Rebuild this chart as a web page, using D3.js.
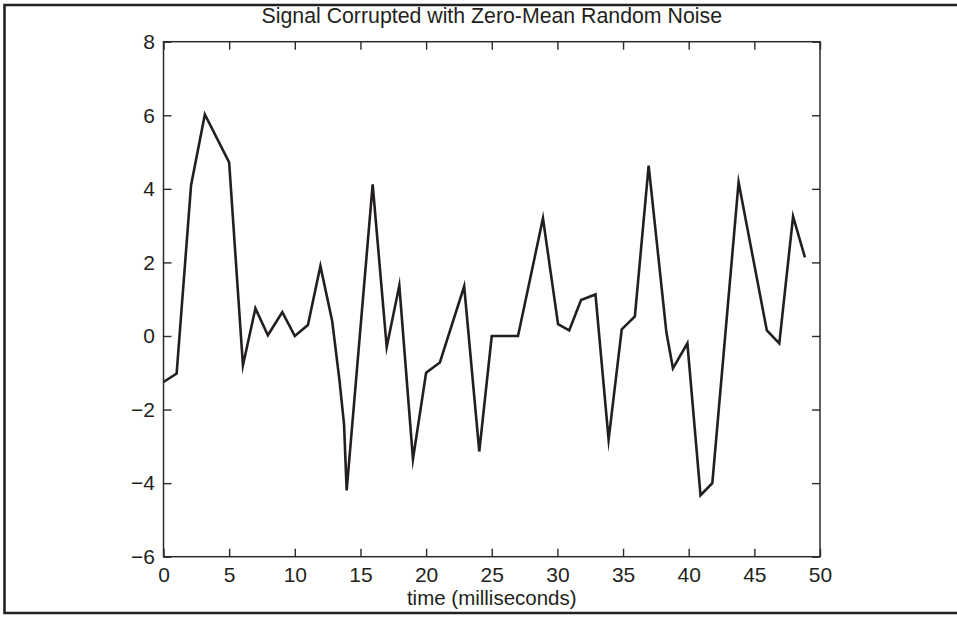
<!DOCTYPE html>
<html>
<head>
<meta charset="utf-8">
<script src="https://cdn.jsdelivr.net/npm/d3@7"></script>
<style>
  html, body { margin: 0; padding: 0; background: #ffffff; }
  svg { display: block; }
  text { font-family: "Liberation Sans", Arial, Helvetica, sans-serif; fill: #231f20; }
</style>
</head>
<body>
<svg id="chart" width="957" height="617"></svg>
<script>
// ---- data ----
const chartTitle = "Signal Corrupted with Zero-Mean Random Noise";
const xLabel = "time (milliseconds)";
const timeMs = [0, 1, 2.1, 3.15, 5.0, 6.05, 7.0, 7.95, 9.05, 10.0, 11.0, 11.95,
  12.85, 13.4, 13.75, 13.95, 15.93, 17.0, 17.96, 19.0, 20.0, 21.05, 22.9, 24.05,
  25.0, 27.0, 28.9, 30.05, 30.9, 31.8, 32.9, 33.9, 34.9, 35.9, 36.95, 38.3, 38.8,
  39.9, 40.9, 41.8, 43.8, 45.95, 46.9, 47.95, 48.85];
const signalValues = [-1.25, -1.02, 4.1, 6.02, 4.72, -0.8, 0.75, 0.02, 0.65, 0.0, 0.3, 1.9,
  0.4, -1.2, -2.4, -4.2, 4.12, -0.3, 1.37, -3.35, -1.0, -0.72, 1.35, -3.14,
  0.0, 0.0, 3.2, 0.32, 0.15, 0.98, 1.13, -2.82, 0.18, 0.53, 4.63, 0.1, -0.88,
  -0.2, -4.33, -4.0, 4.18, 0.15, -0.2, 3.25, 2.14];
const xTicks = [0, 5, 10, 15, 20, 25, 30, 35, 40, 45, 50];
const yTicks = [-6, -4, -2, 0, 2, 4, 6, 8];

// ---- layout ----
const svg = d3.select("#chart");
const plot = { left: 163.5, right: 820, top: 41.7, bottom: 556.7 };
const x = d3.scaleLinear().domain([0, 50]).range([plot.left, plot.right]);
const y = d3.scaleLinear().domain([-6, 8]).range([plot.bottom, plot.top]);
const fmt = d => (d < 0 ? "\u2212" + Math.abs(d) : String(d));
const axisColor = "#2b2b2b";

// outer frame (right edge falls outside the image)
svg.append("path")
  .attr("d", "M958,5 H4.5 V613 H958")
  .attr("fill", "none").attr("stroke", "#222").attr("stroke-width", 2.6);

// title
svg.append("text")
  .attr("x", (plot.left + plot.right) / 2).attr("y", 23)
  .attr("text-anchor", "middle").attr("font-size", 21.3)
  .text(chartTitle);

// axes (inward ticks on all four sides)
function styleAxis(g) {
  g.select(".domain").remove();
  g.selectAll(".tick line").attr("stroke", axisColor).attr("stroke-width", 1.4);
  g.selectAll(".tick text").attr("font-size", 21).attr("fill", "#231f20")
    .attr("font-family", "'Liberation Sans', Arial, Helvetica, sans-serif");
}
svg.append("g").attr("transform", `translate(0,${plot.bottom})`)
  .call(d3.axisBottom(x).tickValues(xTicks).tickFormat(fmt).tickSizeInner(-8).tickSizeOuter(0).tickPadding(10))
  .call(styleAxis);
svg.append("g").attr("transform", `translate(0,${plot.top})`)
  .call(d3.axisTop(x).tickValues(xTicks).tickFormat("").tickSizeInner(-8).tickSizeOuter(0))
  .call(styleAxis);
svg.append("g").attr("transform", `translate(${plot.left},0)`)
  .call(d3.axisLeft(y).tickValues(yTicks).tickFormat(fmt).tickSizeInner(-8).tickSizeOuter(0).tickPadding(8.5))
  .call(styleAxis);
svg.append("g").attr("transform", `translate(${plot.right},0)`)
  .call(d3.axisRight(y).tickValues(yTicks).tickFormat("").tickSizeInner(-8).tickSizeOuter(0))
  .call(styleAxis);

// box
svg.append("rect")
  .attr("x", plot.left).attr("y", plot.top)
  .attr("width", plot.right - plot.left).attr("height", plot.bottom - plot.top)
  .attr("fill", "none").attr("stroke", axisColor).attr("stroke-width", 1.5);

// x label
svg.append("text")
  .attr("x", (plot.left + plot.right) / 2).attr("y", 605)
  .attr("text-anchor", "middle").attr("font-size", 20.5)
  .text(xLabel);

// signal line
const pts = timeMs.map((t, i) => [t, signalValues[i]]);
svg.append("path")
  .datum(pts)
  .attr("fill", "none").attr("stroke", "#231f20").attr("stroke-width", 2.6)
  .attr("stroke-linejoin", "miter").attr("stroke-miterlimit", 10)
  .attr("d", d3.line().x(d => x(d[0])).y(d => y(d[1])));
</script>
</body>
</html>
